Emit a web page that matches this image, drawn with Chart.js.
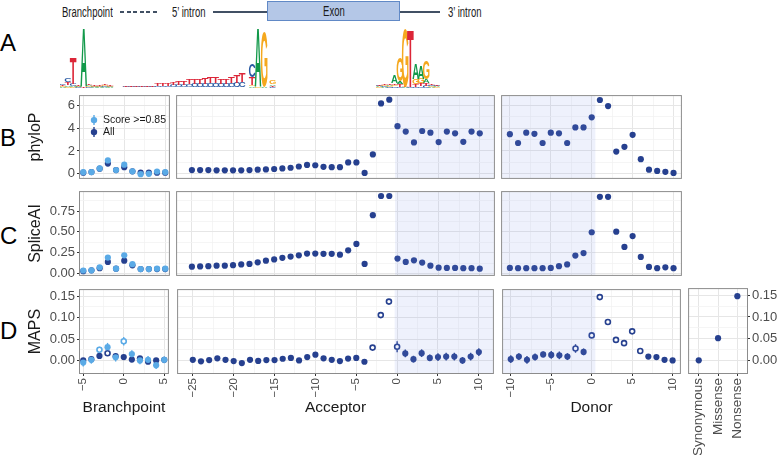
<!DOCTYPE html>
<html lang="en">
<head>
<meta charset="UTF-8">
<title>Splice-site conservation panels</title>
<script src="https://cdn.jsdelivr.net/npm/chart.js"></script>
<style>
  body { margin: 0; background: #fff; font-family: 'Liberation Sans', Arial, sans-serif; }
  #fig { position: relative; width: 777px; height: 455px; overflow: hidden; background: #fff; }
  #fig canvas { position: absolute; }
  .lbl { position: absolute; color: #1a1a1a; white-space: nowrap; }
  .hdr { font-size: 14px; line-height: 16px; top: 4px; transform: scaleX(0.68); transform-origin: left center; }
  .letter { font-size: 24px; line-height: 24px; color: #000; left: 0; }
  .rule { position: absolute; top: 11px; height: 1.5px; background: #415064; }
  .exon { position: absolute; left: 267px; top: 1px; width: 133px; height: 20px; box-sizing: border-box;
          background: #b4c7e7; border: 1px solid #6189c6; display: flex; align-items: center; justify-content: center; }
  .exon span { font-size: 14px; color: #1a1a1a; transform: scaleX(0.68); }
</style>
</head>
<body>
<div id="fig">
  <div class="lbl hdr" style="left:62px">Branchpoint</div>
  <div class="rule" style="left:120px;width:37px;background:repeating-linear-gradient(to right,#415064 0 4px,transparent 4px 6.6px)"></div>
  <div class="lbl hdr" style="left:172px">5’ intron</div>
  <div class="rule" style="left:213px;width:54px"></div>
  <div class="exon"><span>Exon</span></div>
  <div class="rule" style="left:400px;width:40px"></div>
  <div class="lbl hdr" style="left:448px">3’ intron</div>

  <div class="lbl letter" style="top:31px">A</div>
  <div class="lbl letter" style="top:126px">B</div>
  <div class="lbl letter" style="top:224px">C</div>
  <div class="lbl letter" style="top:319px">D</div>

  <canvas id="logo"></canvas>
  <canvas id="bBranch"></canvas><canvas id="bAcc"></canvas><canvas id="bDon"></canvas>
  <canvas id="cBranch"></canvas><canvas id="cAcc"></canvas><canvas id="cDon"></canvas>
  <canvas id="dBranch"></canvas><canvas id="dAcc"></canvas><canvas id="dDon"></canvas><canvas id="dCons"></canvas>
</div>
<script>
// ---- positions ----
const branchPos = [-5, -4, -3, -2, -1, 0, 1, 2, 3, 4, 5];
const accPos = [-25, -24, -23, -22, -21, -20, -19, -18, -17, -16, -15, -14, -13, -12, -11, -10, -9, -8, -7, -6, -5, -4, -3, -2, -1,
                0, 1, 2, 3, 4, 5, 6, 7, 8, 9, 10];
const donPos = [-10, -9, -8, -7, -6, -5, -4, -3, -2, -1, 0, 1, 2, 3, 4, 5, 6, 7, 8, 9, 10];
const consLabels = ['Synonymous', 'Missense', 'Nonsense'];

// ---- B: phyloP ----
const phyloBranchScore = [0.14, 0.15, 0.47, 1.17, 0.33, 0.80, 0.22, -0.03, 0.0, 0.2, 0.15];
const phyloBranchAll = [0.1, 0.15, 0.45, 0.9, 0.33, 0.58, 0.22, 0.1, 0.1, 0.1, 0.1];
const phyloAcc = [0.33, 0.33, 0.33, 0.3, 0.3, 0.3, 0.3, 0.33, 0.36, 0.38, 0.42, 0.47, 0.53, 0.64, 0.78, 0.75, 0.61, 0.58, 0.58, 1.0, 1.0, 0.08,
                  1.7, 6.17, 6.5, 4.17, 3.7, 2.75, 3.75, 3.6, 2.78, 3.7, 3.55, 2.8, 3.7, 3.55];
const phyloDon = [3.47, 2.7, 3.6, 3.5, 2.7, 3.6, 3.55, 2.7, 4.06, 4.06, 4.95, 6.47, 5.94, 1.95, 2.36, 3.42, 1.28, 0.36, 0.25, 0.17, 0.08];

// ---- C: SpliceAI ----
const spliceBranchScore = [0.038, 0.04, 0.076, 0.193, 0.06, 0.22, 0.114, 0.055, 0.055, 0.06, 0.06];
const spliceBranchAll = [0.03, 0.04, 0.065, 0.14, 0.06, 0.155, 0.1, 0.055, 0.055, 0.055, 0.055];
const spliceAcc = [0.083, 0.087, 0.09, 0.095, 0.095, 0.102, 0.11, 0.117, 0.136, 0.155, 0.17, 0.19, 0.205, 0.22, 0.24, 0.24, 0.237, 0.237, 0.227, 0.28, 0.356, 0.117,
                   0.70, 0.93, 0.93, 0.18, 0.14, 0.16, 0.133, 0.095, 0.072, 0.068, 0.068, 0.065, 0.065, 0.06];
const spliceDon = [0.068, 0.065, 0.065, 0.065, 0.065, 0.068, 0.09, 0.11, 0.216, 0.246, 0.496, 0.92, 0.92, 0.503, 0.32, 0.45, 0.2, 0.08, 0.065, 0.076, 0.065];

// ---- D: MAPS (value, error, open marker) ----
const mapsBranchScore = [-0.005, 0.0015, 0.025, 0.031, 0.0075, 0.045, 0.015, 0.0, 0.0015, -0.011, 0.0015];
const mapsBranchScoreErr = [0.009, 0.009, 0.007, 0.01, 0.01, 0.01, 0.009, 0.009, 0.009, 0.009, 0.008];
const mapsBranchScoreOpen = [0, 0, 1, 0, 0, 1, 0, 0, 0, 0, 0];
const mapsBranchAll = [0.0, 0.003, 0.0105, 0.017, 0.01, 0.008, 0.002, 0.005, -0.003, 0.0, 0.0015];
const mapsBranchAllErr = [0.004, 0.004, 0.004, 0.004, 0.004, 0.004, 0.004, 0.004, 0.004, 0.004, 0.004];
const mapsBranchAllOpen = [0, 0, 0, 1, 0, 0, 0, 0, 0, 0, 0];
const mapsAcc = [0.0015, -0.002, 0.001, 0.005, 0.0015, -0.0015, -0.006, 0.0015, -0.001, 0.001, 0.001, 0.004, 0.006, 0.0, 0.008, 0.0135, 0.005, 0.0015, -0.0015, 0.0045, 0.006, -0.003,
                 0.03, 0.106, 0.1375, 0.032, 0.0165, 0.003, 0.017, 0.006, 0.008, 0.009, 0.009, 0.0, 0.009, 0.0195];
const mapsAccErr = [0.004, 0.004, 0.004, 0.004, 0.004, 0.004, 0.004, 0.004, 0.004, 0.004, 0.004, 0.004, 0.004, 0.004, 0.004, 0.004, 0.004, 0.004, 0.004, 0.004, 0.004, 0.004,
                    0.004, 0.006, 0.005, 0.013, 0.009, 0.008, 0.009, 0.008, 0.009, 0.009, 0.009, 0.008, 0.009, 0.009];
const mapsAccOpen = [0, 0, 0, 0, 0, 0, 0, 0, 0, 0, 0, 0, 0, 0, 0, 0, 0, 0, 0, 0, 0, 0, 1, 1, 1, 1, 0, 0, 0, 0, 0, 0, 0, 0, 0, 0];
const mapsDon = [0.003, 0.009, 0.0015, 0.008, 0.014, 0.013, 0.012, 0.009, 0.028, 0.02, 0.0585, 0.148, 0.09, 0.048, 0.0405, 0.068, 0.022, 0.009, 0.008, 0.0015, 0.0];
const mapsDonErr = [0.009, 0.008, 0.009, 0.008, 0.007, 0.009, 0.009, 0.008, 0.01, 0.008, 0.006, 0.004, 0.006, 0.005, 0.005, 0.005, 0.004, 0.004, 0.004, 0.003, 0.003];
const mapsDonOpen = [0, 0, 0, 0, 0, 0, 0, 0, 1, 0, 1, 1, 1, 1, 1, 1, 1, 0, 0, 0, 0];
const mapsCons = [0.0, 0.051, 0.148];

// ---- ticks ----
const branchTicks = [-5, 0, 5], branchMinor = [-2.5, 2.5];
const accTicks = [-25, -20, -15, -10, -5, 0, 5, 10], accMinor = [-22.5, -17.5, -12.5, -7.5, -2.5, 2.5, 7.5];
const donTicks = [-10, -5, 0, 5, 10], donMinor = [-7.5, -2.5, 2.5, 7.5];
const phyloTicks = [0, 2, 4, 6], phyloMinor = [1, 3, 5];
const spliceTicks = [0, 0.25, 0.5, 0.75], spliceMinor = [0.125, 0.375, 0.625, 0.875];
const mapsTicks = [0, 0.05, 0.1, 0.15], mapsMinor = [0.025, 0.075, 0.125];

// ---- sequence logo (bits per base, column index) ----
const logoPos = [0.5, 1.5, 2.5, 3.5, 4.5, 5.5, 6.5, 7.5, 8.5, 9.5,
  12.5, 13.5, 14.5, 15.5, 16.5, 17.5, 18.5, 19.5, 20.5, 21.5, 22.5, 23.5, 24.5, 25.5, 26.5, 27.5, 28.5, 29.5, 30.5, 31.5, 32.5, 33.5, 34.5,
  36.4, 37.5, 38.7, 40.3,
  60.5, 61.5, 62.5, 63.4, 64.4, 65.4, 66.4, 67.4, 68.4, 69.4, 70.4, 71.4];
const logoA = [0.03, 0.05, 0.04, 0.03, 1.93, 0.04, 0.02, 0.02, 0.03, 0.02,
  0.01, 0.01, 0.01, 0.01, 0.01, 0.01, 0.01, 0.01, 0.01, 0.01, 0.01, 0.01, 0.01, 0.01, 0.01, 0.01, 0.01, 0.01, 0.01, 0.01, 0.01, 0.01, 0.01,
  0.05, 1.93, 0.03, 0.06,
  0.03, 0.03, 0.04, 0.25, 0.1, 0.02, 0.01, 0.5, 0.45, 0.12, 0.03, 0.03];
const logoC = [0.05, 0.12, 0.08, 0.02, 0.0, 0.03, 0.02, 0.02, 0.03, 0.02,
  0.02, 0.02, 0.02, 0.03, 0.03, 0.03, 0.04, 0.05, 0.06, 0.07, 0.08, 0.09, 0.10, 0.11, 0.12, 0.13, 0.14, 0.14, 0.13, 0.13, 0.14, 0.16, 0.18,
  0.45, 0.0, 0.0, 0.03,
  0.03, 0.03, 0.03, 0.05, 0.05, 0.0, 0.02, 0.05, 0.06, 0.08, 0.04, 0.03];
const logoG = [0.03, 0.04, 0.03, 0.02, 0.01, 0.03, 0.02, 0.03, 0.03, 0.02,
  0.01, 0.01, 0.01, 0.01, 0.01, 0.01, 0.01, 0.01, 0.01, 0.01, 0.01, 0.01, 0.01, 0.01, 0.01, 0.01, 0.01, 0.01, 0.01, 0.01, 0.01, 0.01, 0.01,
  0.05, 0.03, 1.83, 0.12,
  0.02, 0.03, 0.03, 0.06, 0.8, 1.92, 0.0, 0.18, 0.15, 0.62, 0.03, 0.02];
const logoT = [0.04, 0.1, 0.85, 0.05, 0.02, 0.06, 0.02, 0.03, 0.04, 0.02,
  0.03, 0.03, 0.04, 0.04, 0.05, 0.06, 0.07, 0.08, 0.09, 0.10, 0.11, 0.13, 0.15, 0.17, 0.19, 0.20, 0.21, 0.21, 0.19, 0.18, 0.21, 0.25, 0.28,
  0.25, 0.0, 0.0, 0.04,
  0.03, 0.04, 0.04, 0.06, 0.08, 0.02, 1.9, 0.08, 0.1, 0.1, 0.06, 0.03];

// ---- styling ----
const NAVY = '#26408f', LIGHT = '#5aaae6';
const TICK_COLOR = '#4d4d4d', TITLE_COLOR = '#1a1a1a';
const GRID_MAJOR = '#e6e6e6', GRID_MINOR = '#f2f2f2';
const LOGO_COLORS = { A: '#12994a', C: '#2a5aa3', G: '#f5a81e', T: '#dc2638' };
const LOGO_W = 1.25;

Chart.defaults.font.family = "'Liberation Sans', Arial, sans-serif";
Chart.defaults.animation = false;
Chart.defaults.responsive = false;
Chart.defaults.devicePixelRatio = 1;
Chart.defaults.plugins.legend.display = false;
Chart.defaults.plugins.tooltip.enabled = false;

const fmtInt = v => (v < 0 ? '\u2212' + (-v) : String(v));
const fmt2 = v => v.toFixed(2);
const pts = (xs, ys) => xs.map((x, i) => ({ x: x, y: ys[i] }));

function series(label, xs, ys, color, err, open) {
  return {
    label: label, data: pts(xs, ys), err: err, errColor: color, showLine: false,
    pointRadius: c => (open && open[c.dataIndex] ? 2.5 : 3.1),
    pointHoverRadius: c => (open && open[c.dataIndex] ? 2.5 : 3.1),
    pointBorderWidth: c => (open && open[c.dataIndex] ? 1.6 : 0),
    pointBackgroundColor: c => (open && open[c.dataIndex] ? '#fff' : color),
    pointBorderColor: color
  };
}

// error bars drawn under the points
const errorBars = {
  id: 'errorBars',
  beforeDatasetsDraw(chart) {
    const ctx = chart.ctx, ys = chart.scales.y;
    chart.data.datasets.forEach((ds, i) => {
      if (!ds.err) return;
      const meta = chart.getDatasetMeta(i);
      ctx.save();
      ctx.strokeStyle = ds.errColor;
      ctx.lineWidth = 1.4;
      meta.data.forEach((pt, j) => {
        const v = ds.data[j].y;
        ctx.beginPath();
        ctx.moveTo(pt.x, ys.getPixelForValue(v - ds.err[j]));
        ctx.lineTo(pt.x, ys.getPixelForValue(v + ds.err[j]));
        ctx.stroke();
      });
      ctx.restore();
    });
  }
};

// exon shading, laid over the points like the original
const shade = {
  id: 'shade',
  afterDatasetsDraw(chart, args, opts) {
    if (opts.from === undefined) return;
    const a = chart.chartArea, x = chart.scales.x, ctx = chart.ctx;
    const x0 = Math.max(a.left, x.getPixelForValue(opts.from));
    const x1 = Math.min(a.right, x.getPixelForValue(opts.to));
    ctx.save();
    ctx.fillStyle = 'rgba(120,150,230,0.13)';
    ctx.fillRect(x0, a.top, x1 - x0, a.bottom - a.top);
    ctx.restore();
  }
};

const frame = {
  id: 'frame',
  afterDraw(chart) {
    const a = chart.chartArea, ctx = chart.ctx;
    ctx.save();
    ctx.strokeStyle = '#8c8c8c';
    ctx.lineWidth = 1;
    ctx.strokeRect(a.left - 0.5, a.top - 0.5, a.right - a.left + 1, a.bottom - a.top + 1);
    ctx.restore();
  }
};

const insetLegend = {
  id: 'insetLegend',
  afterDraw(chart) {
    const a = chart.chartArea, ctx = chart.ctx;
    ctx.save();
    chart.data.datasets.forEach((ds, i) => {
      const x = a.left + 14, y = a.top + 24 + i * 12;
      ctx.strokeStyle = ds.errColor;
      ctx.fillStyle = ds.errColor;
      ctx.lineWidth = 1.4;
      ctx.beginPath(); ctx.moveTo(x, y - 5); ctx.lineTo(x, y + 5); ctx.stroke();
      ctx.beginPath(); ctx.arc(x, y, 3.2, 0, Math.PI * 2); ctx.fill();
      ctx.fillStyle = TITLE_COLOR;
      ctx.font = "10.5px 'Liberation Sans', Arial, sans-serif";
      ctx.textBaseline = 'middle';
      ctx.fillText(ds.label, x + 9, y + 0.5);
    });
    ctx.restore();
  }
};

function drawGlyph(ctx, L, x, y, w, h) {
  ctx.save();
  ctx.font = "bold 100px 'Liberation Sans', Arial, sans-serif";
  ctx.textBaseline = 'alphabetic';
  const m = ctx.measureText(L);
  const gw = m.actualBoundingBoxLeft + m.actualBoundingBoxRight;
  const gh = m.actualBoundingBoxAscent + m.actualBoundingBoxDescent;
  ctx.translate(x, y);
  ctx.scale(w / gw, h / gh);
  ctx.fillStyle = LOGO_COLORS[L];
  ctx.fillText(L, m.actualBoundingBoxLeft, m.actualBoundingBoxAscent);
  ctx.restore();
}

const logoLetters = {
  id: 'logoLetters',
  afterDraw(chart) {
    const ctx = chart.ctx, x = chart.scales.x, y = chart.scales.y;
    logoPos.forEach((p, i) => {
      const stack = [['A', logoA[i]], ['C', logoC[i]], ['G', logoG[i]], ['T', logoT[i]]]
        .filter(s => s[1] > 0).sort((a, b) => a[1] - b[1]);
      const xl = x.getPixelForValue(p - LOGO_W / 2), xr = x.getPixelForValue(p + LOGO_W / 2);
      let base = 0;
      stack.forEach(s => {
        const yb = y.getPixelForValue(base), yt = y.getPixelForValue(base + s[1]);
        base += s[1];
        if (yb - yt < 0.5) return;
        drawGlyph(ctx, s[0], xl, yt, xr - xl, yb - yt);
      });
    });
  }
};

// keep label overhang from shrinking the plotting box
function noPad(s) { s.paddingTop = 0; s.paddingBottom = 0; s.paddingLeft = 0; s.paddingRight = 0; }

function isMajor(c, major) { return !!(c.tick && major.includes(c.tick.value)); }

function valueAxis(min, max, major, minor, fmt, o) {
  const ax = {
    type: 'linear', min: min, max: max, position: o.position,
    afterBuildTicks: s => { s.ticks = major.concat(minor).sort((a, b) => a - b).map(v => ({ value: v })); },
    afterFit: s => { if (o.horiz) s.height = o.size; else s.width = o.size; noPad(s); },
    grid: {
      drawTicks: !!o.labels, tickLength: 3,
      color: c => (isMajor(c, major) ? GRID_MAJOR : GRID_MINOR),
      lineWidth: c => (isMajor(c, major) ? 1 : 0.8),
      tickColor: c => (isMajor(c, major) ? '#333' : 'rgba(0,0,0,0)')
    },
    border: { display: false },
    ticks: {
      display: !!o.labels, autoSkip: false, padding: 2, color: TICK_COLOR,
      font: { size: o.font || 13 },
      callback: v => (major.includes(v) ? fmt(v) : '')
    },
    title: o.title
      ? { display: true, text: o.title, color: TITLE_COLOR, font: { size: o.titleSize }, padding: o.titlePad }
      : { display: false }
  };
  if (o.horiz) { ax.ticks.minRotation = 90; ax.ticks.maxRotation = 90; }
  return ax;
}

function panel(id, area, o) {
  const cv = document.getElementById(id);
  const yw = o.yw || 0, rw = o.rw || 0, xh = o.xh || 0;
  const W = 1 + yw + (area.r - area.l) + rw + 1;
  const H = 1 + (area.b - area.t) + xh + 1;
  cv.width = W; cv.height = H;
  cv.style.width = W + 'px'; cv.style.height = H + 'px';
  cv.style.left = (area.l - yw - 1) + 'px';
  cv.style.top = (area.t - 1) + 'px';
  return new Chart(cv, {
    type: o.type || 'scatter',
    data: o.data,
    options: {
      layout: { padding: { left: 1, right: 1, top: 1, bottom: 1 } },
      scales: { x: o.x, y: o.y },
      plugins: { shade: o.shade || {} }
    },
    plugins: [errorBars, shade, frame].concat(o.extra || [])
  });
}

// ---- panel geometry ----
const rowB = { t: 94, b: 180 }, rowC = { t: 190, b: 277 }, rowD = { t: 287, b: 373 };
const colBranch = { l: 80, r: 171 }, colAcc = { l: 175, r: 496 }, colDon = { l: 500, r: 683 }, colCons = { l: 687, r: 747 };
const box = (row, col) => ({ t: row.t, b: row.b, l: col.l, r: col.r });
const xBranch = [-5.4, 5.45], xAcc = [-26.8, 11.72], xDon = [-10.95, 10.9];
const yB = [-0.36, 6.81], yC = [-0.015, 0.977], yD = [-0.0293, 0.1644];
const accShade = { from: -0.3, to: 20 }, donShade = { from: -20, to: 0.45 };

function rowPanels(row, yr, major, minor, fmt, title, data, lastRow) {
  const xo = t => (lastRow
    ? { horiz: true, labels: true, size: 45, font: 11.5, title: t, titleSize: 15.5, titlePad: { bottom: 1 } }
    : { horiz: true, labels: false, size: 0 });
  panel(row.id + 'Branch', box(row, colBranch), {
    yw: 79, xh: lastRow ? 45 : 0,
    data: { datasets: data.branch },
    x: valueAxis(xBranch[0], xBranch[1], branchTicks, branchMinor, fmtInt, xo('Branchpoint')),
    y: valueAxis(yr[0], yr[1], major, minor, fmt, { labels: true, size: 79, title: title, titleSize: 16, titlePad: { top: 25 } }),
    extra: row.id === 'b' ? [insetLegend] : []
  });
  panel(row.id + 'Acc', box(row, colAcc), {
    xh: lastRow ? 45 : 0, shade: accShade,
    data: { datasets: data.acc },
    x: valueAxis(xAcc[0], xAcc[1], accTicks, accMinor, fmtInt, xo('Acceptor')),
    y: valueAxis(yr[0], yr[1], major, minor, fmt, { labels: false, size: 0 })
  });
  panel(row.id + 'Don', box(row, colDon), {
    xh: lastRow ? 45 : 0, shade: donShade,
    data: { datasets: data.don },
    x: valueAxis(xDon[0], xDon[1], donTicks, donMinor, fmtInt, xo('Donor')),
    y: valueAxis(yr[0], yr[1], major, minor, fmt, { labels: false, size: 0 })
  });
}

rowPanels(Object.assign({ id: 'b' }, rowB), yB, phyloTicks, phyloMinor, v => String(v), 'phyloP', {
  branch: [series('Score >=0.85', branchPos, phyloBranchScore, LIGHT), series('All', branchPos, phyloBranchAll, NAVY)],
  acc: [series('All', accPos, phyloAcc, NAVY)],
  don: [series('All', donPos, phyloDon, NAVY)]
}, false);

rowPanels(Object.assign({ id: 'c' }, rowC), yC, spliceTicks, spliceMinor, fmt2, 'SpliceAI', {
  branch: [series('Score >=0.85', branchPos, spliceBranchScore, LIGHT), series('All', branchPos, spliceBranchAll, NAVY)],
  acc: [series('All', accPos, spliceAcc, NAVY)],
  don: [series('All', donPos, spliceDon, NAVY)]
}, false);

rowPanels(Object.assign({ id: 'd' }, rowD), yD, mapsTicks, mapsMinor, fmt2, 'MAPS', {
  branch: [series('Score >=0.85', branchPos, mapsBranchScore, LIGHT, mapsBranchScoreErr, mapsBranchScoreOpen),
           series('All', branchPos, mapsBranchAll, NAVY, mapsBranchAllErr, mapsBranchAllOpen)],
  acc: [series('All', accPos, mapsAcc, NAVY, mapsAccErr, mapsAccOpen)],
  don: [series('All', donPos, mapsDon, NAVY, mapsDonErr, mapsDonOpen)]
}, true);

// consequence panel with right-hand axis (category x)
const consSeries = series('All', consLabels, mapsCons, NAVY);
consSeries.data = mapsCons.slice();
panel('dCons', box(rowD, colCons), {
  type: 'line', rw: 32, xh: 82,
  data: { labels: consLabels, datasets: [consSeries] },
  x: {
    type: 'category', offset: true,
    afterFit: s => { s.height = 82; noPad(s); },
    grid: { color: GRID_MAJOR, drawTicks: true, tickLength: 3, tickColor: '#333' },
    border: { display: false },
    ticks: { minRotation: 90, maxRotation: 90, autoSkip: false, padding: 2, color: TICK_COLOR, font: { size: 13.5 } }
  },
  y: valueAxis(yD[0], yD[1], mapsTicks, mapsMinor, fmt2, { position: 'right', labels: true, size: 32 })
});

// sequence logo
(function () {
  const cv = document.getElementById('logo');
  cv.width = 380; cv.height = 60;
  cv.style.width = '380px'; cv.style.height = '60px';
  cv.style.left = '60px'; cv.style.top = '28px';
  new Chart(cv, {
    type: 'scatter',
    data: { datasets: [] },
    options: {
      layout: { padding: 0 },
      scales: {
        x: { type: 'linear', min: 0, max: 72, display: false },
        y: { type: 'linear', min: 0, max: 2, display: false }
      }
    },
    plugins: [logoLetters]
  });
})();
</script>
</body>
</html>
